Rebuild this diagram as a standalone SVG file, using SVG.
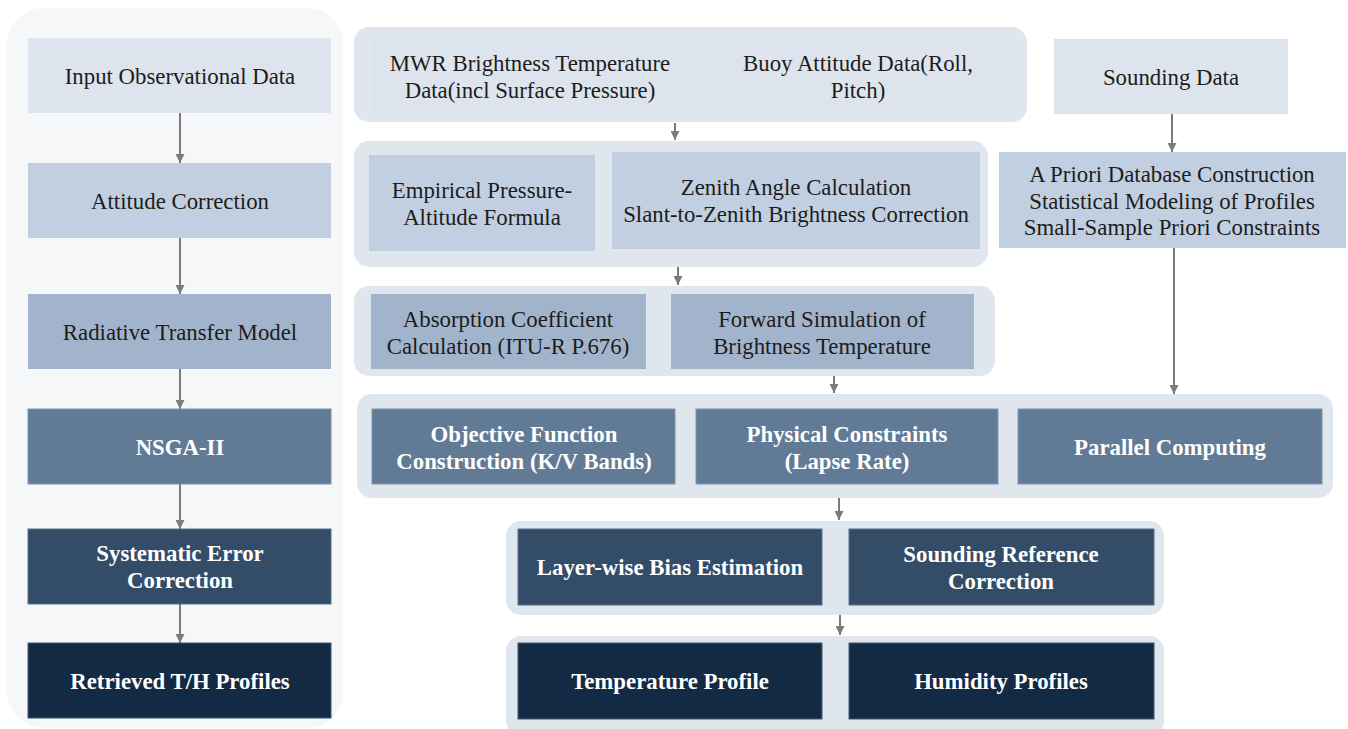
<svg xmlns="http://www.w3.org/2000/svg" width="1348" height="729" viewBox="0 0 1348 729">
<defs>
<style>
.t{font-family:"Liberation Serif","Times New Roman",serif;font-size:22.8px;text-anchor:middle;fill:#1c1c1c}
.b{font-family:"Liberation Serif","Times New Roman",serif;font-size:22.8px;font-weight:bold;text-anchor:middle;fill:#ffffff}
.grp{fill:#e0e6ee}
.c1{fill:#dde4ed}
.c2{fill:#c2cfe0}
.c3{fill:#a2b4cb}
.c4{fill:#617b96;stroke:#7f94ab;stroke-width:1}
.c5{fill:#334d68;stroke:#5b7088;stroke-width:1}
.c6{fill:#132a44;stroke:#44586f;stroke-width:1}
.ar{stroke:#7b7b7b;stroke-width:2;fill:none;marker-end:url(#ah)}
</style>
<marker id="ah" viewBox="0 0 10 10" markerWidth="9" markerHeight="9" markerUnits="userSpaceOnUse" refX="10" refY="5" orient="auto">
<path d="M0,0 L10,5 L0,10 z" fill="#7b7b7b"/>
</marker>
</defs>
<rect width="1348" height="729" fill="#ffffff"/>

<g id="panel-left"><rect x="7" y="8" width="336" height="720" rx="36" fill="#f6f7f9"/></g>

<g id="groups">
<rect id="g1" class="grp" x="354" y="27" width="673" height="95" rx="15"/>
<rect id="g2" class="grp" x="354" y="141" width="634" height="126" rx="15"/>
<rect id="g3" class="grp" x="354" y="286" width="641" height="90" rx="15"/>
<rect id="g4" class="grp" x="357" y="394" width="976" height="104" rx="15"/>
<rect id="g5" class="grp" x="506" y="521" width="658" height="94" rx="15"/>
<rect id="g6" class="grp" x="506" y="636" width="658" height="100" rx="15"/>
</g>

<g id="connectors">
<line class="ar" x1="180" y1="113" x2="180" y2="163"/>
<line class="ar" x1="180" y1="238" x2="180" y2="294"/>
<line class="ar" x1="180" y1="369" x2="180" y2="409"/>
<line class="ar" x1="180" y1="484" x2="180" y2="529"/>
<line class="ar" x1="180" y1="604" x2="180" y2="643"/>
<line class="ar" x1="675" y1="123" x2="675" y2="140"/>
<line class="ar" x1="678" y1="267" x2="678" y2="285"/>
<line class="ar" x1="834" y1="376" x2="834" y2="393"/>
<line class="ar" x1="839" y1="498" x2="839" y2="520"/>
<line class="ar" x1="840" y1="615" x2="840" y2="635"/>
<line class="ar" x1="1172" y1="114" x2="1172" y2="152"/>
<line class="ar" x1="1174" y1="248" x2="1174" y2="394"/>
</g>

<g id="n-input"><rect class="c1" x="28" y="38" width="303" height="75"/><text class="t" x="180" y="84">Input Observational Data</text></g>
<g id="n-attitude"><rect class="c2" x="28" y="163" width="303" height="75"/><text class="t" x="180" y="209">Attitude Correction</text></g>
<g id="n-rtm"><rect class="c3" x="28" y="294" width="303" height="75"/><text class="t" x="180" y="340">Radiative Transfer Model</text></g>
<g id="n-nsga"><rect class="c4" x="28" y="409" width="303" height="75"/><text class="b" x="180" y="455">NSGA-II</text></g>
<g id="n-syserr"><rect class="c5" x="28" y="529" width="303" height="75"/><text class="b" x="180" y="561">Systematic Error</text><text class="b" x="180" y="588">Correction</text></g>
<g id="n-retrieved"><rect class="c6" x="28" y="643" width="303" height="75"/><text class="b" x="180" y="689">Retrieved T/H Profiles</text></g>

<g id="n-mwr"><rect class="c1" x="372" y="38" width="316" height="75"/><text class="t" x="530" y="71">MWR Brightness Temperature</text><text class="t" x="530" y="98">Data(incl Surface Pressure)</text></g>
<g id="n-buoy"><rect class="c1" x="706" y="38" width="304" height="75"/><text class="t" x="858" y="71">Buoy Attitude Data(Roll,</text><text class="t" x="858" y="98">Pitch)</text></g>
<g id="n-sounding"><rect class="c1" x="1054" y="39" width="234" height="75"/><text class="t" x="1171" y="85">Sounding Data</text></g>

<g id="n-empirical"><rect class="c2" x="369" y="155" width="226" height="96"/><text class="t" x="482" y="198">Empirical Pressure-</text><text class="t" x="482" y="225">Altitude Formula</text></g>
<g id="n-zenith"><rect class="c2" x="612" y="152" width="368" height="97"/><text class="t" x="796" y="195">Zenith Angle Calculation</text><text class="t" x="796" y="222">Slant-to-Zenith Brightness Correction</text></g>
<g id="n-apriori"><rect class="c2" x="999" y="152" width="347" height="96"/><text class="t" x="1172" y="182">A Priori Database Construction</text><text class="t" x="1172" y="208.5">Statistical Modeling of Profiles</text><text class="t" x="1172" y="235">Small-Sample Priori Constraints</text></g>

<g id="n-absorption"><rect class="c3" x="371" y="294" width="275" height="75"/><text class="t" x="508" y="327">Absorption Coefficient</text><text class="t" x="508" y="354">Calculation (ITU-R P.676)</text></g>
<g id="n-forward"><rect class="c3" x="671" y="294" width="303" height="75"/><text class="t" x="822" y="327">Forward Simulation of</text><text class="t" x="822" y="354">Brightness Temperature</text></g>

<g id="n-objective"><rect class="c4" x="372" y="409" width="303" height="75"/><text class="b" x="524" y="442">Objective Function</text><text class="b" x="524" y="469">Construction (K/V Bands)</text></g>
<g id="n-physical"><rect class="c4" x="696" y="409" width="302" height="75"/><text class="b" x="847" y="442">Physical Constraints</text><text class="b" x="847" y="469">(Lapse Rate)</text></g>
<g id="n-parallel"><rect class="c4" x="1018" y="409" width="304" height="75"/><text class="b" x="1170" y="455">Parallel Computing</text></g>

<g id="n-layerwise"><rect class="c5" x="518" y="529" width="304" height="76"/><text class="b" x="670" y="575">Layer-wise Bias Estimation</text></g>
<g id="n-soundref"><rect class="c5" x="849" y="529" width="305" height="76"/><text class="b" x="1001" y="562">Sounding Reference</text><text class="b" x="1001" y="589">Correction</text></g>

<g id="n-temp"><rect class="c6" x="518" y="643" width="304" height="76"/><text class="b" x="670" y="689">Temperature Profile</text></g>
<g id="n-humid"><rect class="c6" x="849" y="643" width="305" height="76"/><text class="b" x="1001" y="689">Humidity Profiles</text></g>
</svg>
